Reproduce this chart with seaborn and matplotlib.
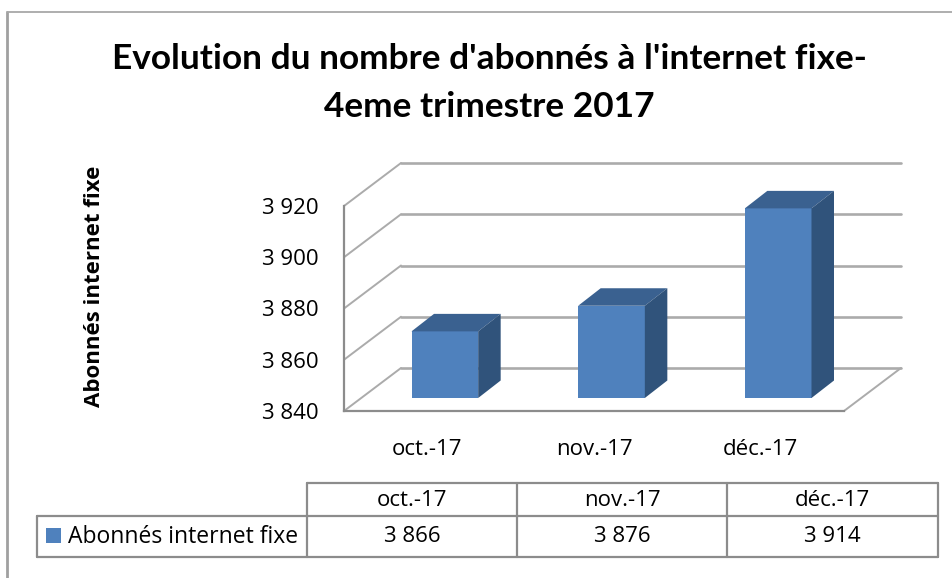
import matplotlib
matplotlib.use("Agg")
import matplotlib.pyplot as plt
from matplotlib.patches import Polygon, Rectangle
from matplotlib.transforms import Affine2D
import pandas as pd
import seaborn as sns

months = ["oct.-17", "nov.-17", "déc.-17"]
abonnes = [3866, 3876, 3914]
y_ticks = [3840, 3860, 3880, 3900, 3920]
series_name = "Abonnés internet fixe"
title = "Evolution du nombre d'abonnés à l'internet fixe-\n4eme trimestre 2017"

W, H = 952, 578
FRONT = "#4F81BD"
SIDE = "#30537B"
TOP = "#3A6190"
GRID = "#ABABAB"
EDGE = "#8C8C8C"
BODY = ["Open Sans", "DejaVu Sans"]


def fmt(v):
    return f"{v:,}".replace(",", " ")


def px_axes(left, top, right, bottom):
    return fig.add_axes([left / W, 1 - bottom / H, (right - left) / W, (bottom - top) / H])


sns.set_theme(style="white")
plt.rcParams["font.family"] = BODY

fig = plt.figure(figsize=(W / 100, H / 100), dpi=100)

# front plane of the 3d box
ax = px_axes(344, 206, 844, 411)
df = pd.DataFrame({"mois": months, "abonnes": abonnes})
sns.barplot(data=df, x="mois", y="abonnes", color=FRONT, saturation=1, width=0.4, ax=ax, zorder=3)
ax.set_xlim(-0.5, 2.5)
ax.set_ylim(y_ticks[0], y_ticks[-1])
ax.set_yticks(y_ticks, [fmt(v) for v in y_ticks])
ax.set_xlabel("")
ax.set_ylabel(series_name, fontsize=16, fontweight="bold", color="black", labelpad=0)
ax.yaxis.set_label_coords(-239 / 500, 0.61)
ax.tick_params(axis="x", length=0, pad=20, labelsize=16, labelcolor="black")
ax.tick_params(axis="y", length=0, pad=18, labelsize=16, labelcolor="black")
ax.patch.set_alpha(0)
sns.despine(ax=ax)
for s in ["left", "bottom"]:
    ax.spines[s].set_color(EDGE)
    ax.spines[s].set_linewidth(1.6)

# depth of the box, in pixels
back = ax.transData + Affine2D().translate(57, 43)
for v in y_ticks:
    ax.plot([-0.5, 2.5], [v, v], color=GRID, lw=1.9, transform=back, clip_on=False, zorder=1)
    x0, y0 = ax.transData.transform((-0.5, v))
    ax.plot([x0, x0 + 57], [y0, y0 + 43], color=GRID, lw=1.4, transform=None, clip_on=False, zorder=1)
x1, y1 = ax.transData.transform((2.5, y_ticks[0]))
ax.plot([x1, x1 + 57], [y1, y1 + 43], color=GRID, lw=1.4, transform=None, clip_on=False, zorder=1)

# bars sit a bit inside the box, with a top and a side face
inside = ax.transData + Affine2D().translate(17.5, 13)
for bar in list(ax.patches):
    top = bar.get_y() + bar.get_height()
    bar.set_y(y_ticks[0])
    bar.set_height(top - y_ticks[0])
    bar.set_transform(inside)
    bar.set_clip_on(False)
    bar.set_edgecolor("none")
    x0, w = bar.get_x(), bar.get_width()
    (xa, ya), (xb, yb), (xc, yc) = inside.transform([(x0, top), (x0 + w, top), (x0 + w, y_ticks[0])])
    ax.add_patch(Polygon([(xa, ya), (xb, yb), (xb + 22.5, yb + 17.5), (xa + 22.5, ya + 17.5)],
                         fc=TOP, ec="none", transform=None, clip_on=False, zorder=3))
    ax.add_patch(Polygon([(xb, yb), (xc, yc), (xc + 22.5, yc + 17.5), (xb + 22.5, yb + 17.5)],
                         fc=SIDE, ec="none", transform=None, clip_on=False, zorder=3))

fig.text(489 / W, 1 - 83 / H, title, ha="center", va="center", fontsize=25.4, fontweight="bold",
         family=["Lato", "DejaVu Sans"], color="black", linespacing=1.6)

# data table under the chart
tab = px_axes(0, 0, W, H)
tab.set_xlim(0, W)
tab.set_ylim(H, 0)
tab.axis("off")
tab.patch.set_alpha(0)
col_x = [307, 517, 727, 938]
row_y = [483, 516, 557]
tab.plot([col_x[0], col_x[-1]], [row_y[0], row_y[0]], color=EDGE, lw=1.6)
tab.plot([37, col_x[-1]], [row_y[1], row_y[1]], color=EDGE, lw=1.6)
tab.plot([37, col_x[-1]], [row_y[2], row_y[2]], color=EDGE, lw=1.6)
tab.plot([37, 37], [row_y[1], row_y[2]], color=EDGE, lw=1.6)
for x in col_x:
    tab.plot([x, x], [row_y[0], row_y[2]], color=EDGE, lw=1.6)
for i, (m, v) in enumerate(zip(months, abonnes)):
    xc = (col_x[i] + col_x[i + 1]) / 2
    tab.text(xc, 500, m, ha="center", va="center", fontsize=16, color="black")
    tab.text(xc, 537, fmt(v), ha="center", va="center", fontsize=16, color="black")
tab.add_patch(Rectangle((46, 528), 15, 15, fc=FRONT, ec="none"))
tab.text(68, 537, series_name, ha="left", va="center", fontsize=16.5, color="black")

# chart area border, only top and left show
tab.plot([7, 7], [578, 12], color="#A0A0A0", lw=2, clip_on=False)
tab.plot([7, 952], [12, 12], color="#A8A8A8", lw=1.3, clip_on=False)

fig.savefig("out.png", dpi=100)
